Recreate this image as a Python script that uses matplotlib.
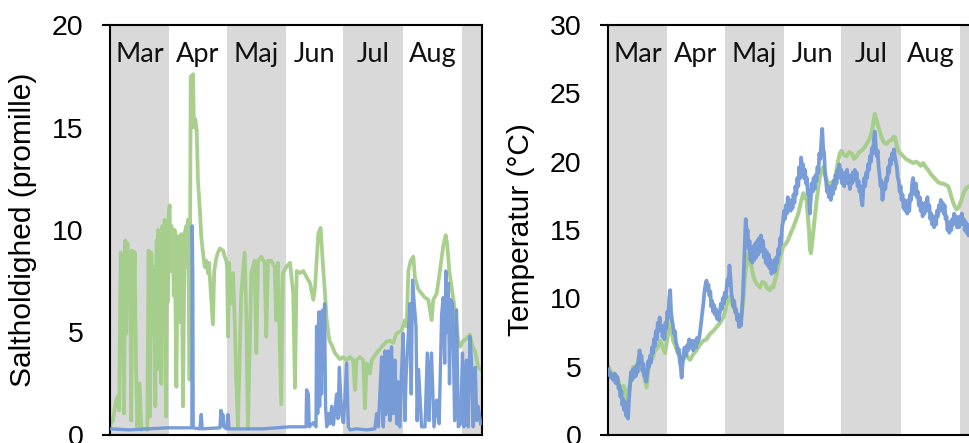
import matplotlib.pyplot as plt
from matplotlib.transforms import blended_transform_factory

# days since 1 March
months = ['Mar', 'Apr', 'Maj', 'Jun', 'Jul', 'Aug', 'Sep']
month_start = [0, 31, 61, 92, 122, 153, 184]
month_end = [31, 61, 92, 122, 153, 184, 194.5]

# salinity (promille), green station
sal_g_day = [0, 0.7, 1.5, 2.5, 3.3, 4.2, 4.8, 5.6, 6.3, 6.8, 7.3, 8.0, 8.5, 9.1, 9.8, 10.5,
             11.1, 11.7, 12.4, 12.9, 13.6, 14.3, 15.5, 16.4, 18.1, 19.5, 20.2, 20.9, 21.6, 22.3,
             23.0, 23.7, 24.0, 24.4, 24.7, 25.1, 25.4, 25.8, 26.3, 26.8, 27.4, 27.9, 28.6, 29.3,
             30.0, 30.4, 30.7, 31.2, 31.6, 32.1, 32.9, 33.3, 33.8, 34.7, 35.5, 36.0, 36.4, 37.3,
             38.2, 39.0, 39.9, 40.4, 40.8, 41.6, 42.2,
             42.9, 43.4, 43.9, 44.6, 45.3, 46.0, 46.9, 47.7, 48.6, 49.5, 50.3, 51.2, 51.7, 52.6,
             53.8, 54.5, 55.5, 56.4, 57.5, 59.1, 60.0, 60.8, 61.2, 61.7, 62.2,
             63.4, 64.3, 65.2, 66.0, 66.9, 67.8, 68.6, 69.5, 70.4, 71.3, 72.1, 73.0, 73.9, 75.6,
             76.5, 77.4, 79.1, 80.8, 81.7, 82.6, 84.3, 86.1, 86.9, 87.8, 89.5, 90.4, 92.2, 94.1,
             95.8, 96.7, 97.6, 99.3, 101.1, 102.8, 104.6, 106.3, 107.2, 108.9, 110.1, 111.2, 112.4,
             113.3, 114.7, 115.9, 117.6, 120.2, 122.0, 123.7, 125.5, 127.1, 128.1, 128.9, 130.7,
             132.4, 133.3, 134.2, 135.9, 136.8, 139.4, 142.0, 144.6, 146.4, 148.1, 149.8, 152.5,
             154.2, 155.1, 156.0, 157.2, 158.6, 159.4, 161.2, 162.9, 164.7, 166.4, 168.2, 169.0,
             170.8, 172.5, 174.2, 175.5, 176.3, 177.4, 178.6, 180.3, 182.1, 183.0, 184.7, 186.4,
             188.2, 189.6, 190.8, 192.5, 193.8]
sal_g = [0.4, 0.6, 0.7, 1.3, 1.7, 1.9, 1.2, 8.9, 4.1, 8.2, 1.05, 9.5, 4.95, 9.35, 6.6, 8.9,
         0.7, 9.0, 6.9, 8.9, 3.3, 0.4, 2.5, 0.25, 0.3, 0.25, 9.0, 0.9, 8.9, 4.95,
         8.2, 1.4, 6.5, 9.5, 3.2, 10.0, 7.0, 4.6, 9.8, 2.5, 10.2, 7.4, 10.5, 0.9,
         9.8, 6.5, 10.8, 11.2, 8.0, 10.2, 9.35, 6.8, 10.0, 2.35, 9.7, 5.5, 9.35, 9.8,
         1.4, 9.8, 10.2, 8.2, 10.5, 2.7, 17.5,
         16.8, 17.6, 15.0, 15.4, 14.9, 12.4, 11.1, 9.7, 8.9, 8.2, 8.5, 7.9, 8.4, 7.1,
         5.4, 8.0, 8.6, 8.9, 9.1, 9.0, 8.7, 8.5, 8.2, 4.8, 8.4,
         6.4, 7.9, 5.6, 2.7, 0.4, 4.0, 6.9, 7.9, 8.9, 5.6, 0.3, 4.0, 7.9, 8.5,
         4.0, 8.5, 8.7, 8.4, 4.8, 8.5, 8.5, 8.2, 5.6, 8.4, 1.5, 7.9, 8.2, 8.4,
         6.9, 2.3, 8.0, 7.9, 8.0, 7.7, 7.4, 6.6, 7.2, 9.8, 10.1, 8.5, 6.9,
         5.6, 4.6, 4.4, 4.0, 3.7, 3.8, 3.65, 3.8, 3.65, 2.2, 3.65, 3.8,
         3.65, 1.3, 3.5, 3.0, 3.65, 4.0, 4.3, 4.55, 4.6, 4.5, 4.95, 5.1,
         5.6, 5.3, 8.0, 8.5, 8.7, 7.7, 7.1, 6.9, 6.7, 6.6, 5.6, 6.6,
         6.9, 8.0, 9.2, 9.75, 9.3, 8.0, 7.2, 6.1, 4.6, 4.3, 4.6, 4.7,
         4.9, 4.3, 4.1, 3.3, 3.2]

# salinity (promille), blue station
sal_b_day = [0, 10, 20, 30, 42.8, 43.0, 43.3, 43.5, 47.0, 47.7, 48.2, 57.5, 58.0, 58.5, 59.0,
             59.5, 61.0, 61.7, 62.2, 80, 94.1, 101.1, 102.5, 102.8, 103.7, 104.2, 106.3, 107.7,
             108.0, 108.6, 109.1, 109.6, 110.1, 110.6, 111.2, 111.7, 112.2, 112.7, 113.3, 114.1,
             115.0, 115.9, 116.8, 118.5, 119.2, 119.9, 121.1, 122.0, 122.8, 123.7, 124.6, 125.5,
             128.9, 134.2, 138.5, 139.4, 140.3, 142.0, 142.5, 142.9, 143.8, 144.2, 144.6, 145.5,
             146.0, 146.4, 147.2, 147.7, 148.1, 149.0, 149.9, 150.5, 151.0, 151.6, 152.4, 153.3,
             154.2, 154.8, 155.9, 156.8, 157.5, 158.2, 158.9, 160.0, 160.6, 161.3, 162.0, 162.9,
             164.7, 165.9, 166.8, 167.4, 168.1, 169.4, 170.8, 172.1, 173.4, 174.2, 175.0, 175.6,
             176.2, 176.9, 177.5, 178.1, 179.1, 180.2, 181.2, 182.1, 183.3, 184.3, 185.0, 185.6,
             186.4, 187.3, 188.2, 189.0, 189.9, 190.4, 191.0, 191.7, 192.5, 193.8]
sal_b = [0.3, 0.25, 0.3, 0.35, 0.35, 10.2, 7.6, 0.35, 0.3, 1.0, 0.3, 0.35, 1.2, 0.5, 1.0,
         0.4, 0.3, 1.0, 0.3, 0.3, 0.4, 0.4, 0.4, 2.2, 2.0, 0.4, 0.6, 0.4,
         5.3, 1.05, 6.0, 1.4, 6.0, 2.0, 6.1, 3.65, 6.4, 1.4, 0.4, 1.05,
         0.55, 1.4, 0.5, 2.0, 0.8, 3.3, 1.05, 0.6, 1.7, 3.5, 0.4, 0.25,
         0.3, 0.25, 0.3, 1.05, 0.4, 3.8, 1.2, 0.4, 4.1, 1.0, 2.0, 4.1,
         1.5, 0.7, 4.3, 2.2, 1.05, 3.65, 0.55, 2.6, 0.5, 0.4, 3.0, 4.95,
         0.7, 2.8, 4.8, 6.4, 2.0, 7.55, 6.6, 5.3, 0.7, 3.2, 2.0, 0.4,
         0.4, 4.0, 0.7, 3.0, 4.0, 0.4, 1.7, 0.55, 5.9, 6.7, 3.5, 8.0,
         5.0, 7.4, 2.5, 6.6, 6.4, 0.7, 6.1, 0.4, 0.55, 4.0, 0.4, 2.6,
         3.65, 0.4, 4.8, 3.65, 0.4, 2.8, 3.3, 0.7, 1.4, 0.55]

# temperature (C), blue station, every half day from 1 March
tmp_b = [4.8, 4.4, 4.6, 4.2, 4.4, 4.1, 4.0, 4.5, 3.8, 4.3, 4.2, 3.4, 3.6, 2.8, 3.2, 2.2,
         2.6, 1.8, 2.4, 1.4, 1.9, 1.2, 2.6, 3.6, 4.6, 4.0, 4.8, 4.2, 4.9, 4.3, 5.1, 4.6,
         5.6, 6.2, 5.4, 5.8, 4.7, 5.2, 4.3, 4.6, 3.9, 4.5, 5.4, 5.0, 5.8, 5.3, 6.4, 6.0,
         7.0, 6.5, 7.6, 7.0, 8.2, 7.6, 8.6, 7.8, 8.0, 7.2, 7.6, 7.0, 8.2, 7.8, 9.0, 8.6,
         10.0, 10.6, 9.0, 8.4, 8.0, 7.4, 7.6, 6.8, 6.6, 6.0, 6.3, 5.4, 5.0, 4.2, 5.2, 6.0,
         6.4, 6.1, 5.8, 6.6, 6.2, 7.0, 6.4, 6.6, 6.9, 6.2, 6.8, 6.9, 6.4, 7.1, 6.8, 7.0,
         7.4, 8.0, 8.6, 9.2, 9.8, 10.6, 11.0, 11.3, 10.6, 11.0, 10.2, 10.5, 9.4, 9.8, 9.0, 9.5,
         8.8, 9.2, 8.5, 9.0, 8.4, 9.0, 9.6, 9.2, 10.0, 9.6, 10.4, 10.0, 10.8, 11.4, 11.0, 12.4,
         11.6, 10.4, 10.0, 9.4, 9.8, 9.0, 9.2, 8.4, 8.8, 7.9, 8.3, 8.0, 9.0, 10.2, 12.0, 14.0,
         15.8, 14.6, 15.0, 13.6, 14.2, 12.8, 13.4, 12.6, 13.8, 12.8, 14.0, 13.0, 14.2, 13.2,
         14.4, 13.4, 14.6, 13.6, 14.2, 13.0, 13.6, 12.6, 13.4, 12.4, 13.2, 12.2, 12.8, 11.8,
         12.6, 11.9, 12.8, 12.0, 13.0, 12.6, 13.6, 13.2, 14.4, 14.0, 15.2, 15.6, 16.4, 15.8,
         16.8, 16.2, 17.4, 16.6, 17.2, 16.4, 17.0, 16.6, 17.6, 17.0, 18.2, 17.6, 18.8, 18.2,
         19.6, 18.8, 20.3, 19.4, 19.8, 18.8, 19.4, 18.4, 18.8, 17.6, 17.8, 16.2, 17.2, 18.4,
         17.8, 18.8, 18.0, 19.0, 18.6, 19.6, 19.2, 20.6, 20.2, 21.4, 22.4, 21.0, 20.6, 19.2,
         18.6, 17.8, 18.2, 17.4, 17.8, 17.2, 18.2, 17.6, 18.6, 18.0, 19.0, 18.4, 19.4, 18.8,
         19.8, 19.0, 19.4, 18.4, 19.0, 18.2, 19.2, 18.6, 19.4, 18.4, 18.8, 18.0, 19.0, 18.4,
         19.2, 18.6, 19.4, 18.8, 19.2, 18.2, 18.6, 17.8, 18.2, 17.2, 16.8, 18.0, 18.8, 18.2,
         19.2, 18.8, 19.8, 19.4, 20.4, 20.0, 21.0, 20.6, 21.6, 22.2, 21.2, 20.4, 20.8, 19.6,
         19.0, 18.2, 18.6, 17.2, 17.8, 18.4, 18.0, 18.8, 18.6, 19.6, 19.2, 20.2, 19.8, 20.6,
         20.2, 20.9, 20.4, 20.0, 19.6, 18.8, 18.6, 17.8, 18.2, 17.2, 17.6, 16.6, 17.2, 16.4,
         17.0, 16.2, 17.2, 16.4, 17.6, 17.2, 18.4, 18.8, 18.2, 17.6, 18.4, 17.4, 17.8, 16.8,
         17.4, 16.4, 17.0, 16.0, 16.6, 16.2, 17.0, 16.6, 17.4, 16.4, 16.8, 15.8, 16.2, 15.4,
         16.0, 15.2, 15.8, 15.4, 16.4, 16.0, 16.8, 16.4, 17.2, 16.6, 17.0, 16.2, 16.8, 15.8,
         16.0, 15.0, 15.4, 14.8, 15.6, 15.0, 15.8, 15.4, 16.2, 15.6, 16.0, 15.2, 15.8, 15.2,
         16.0, 15.4, 16.2, 15.6, 15.8, 15.0, 15.6, 14.8, 15.4, 14.6, 15.2, 14.8, 15.0, 15.4,
         15.0, 15.2, 14.8, 15.2, 15.0, 15.2, 15.0]
tmp_b_day = [0.5 * i for i in range(len(tmp_b))]

# temperature (C), green station
tmp_g_day = [0.2, 1.5, 2.8, 4.0, 5.4, 6.2, 7.1, 8.0, 8.9, 9.5, 10.1, 11.5, 12.4, 13.2, 14.5,
             15.9, 16.8, 17.6, 19.0, 20.2, 21.0, 22.0, 23.3, 24.6, 26.0, 27.2, 28.5, 29.8, 31.2,
             32.4, 33.2, 34.1, 35.5, 36.8, 38.0, 39.4, 41.0, 42.9, 44.5, 46.3, 48.0, 49.8, 51.5,
             53.3, 55.0, 56.8, 58.5, 60.3, 61.5, 62.9, 64.2, 65.5, 66.8, 68.1, 69.0, 69.9, 70.8,
             71.6, 72.5, 73.3, 74.2, 75.1, 76.0, 76.8, 78.0, 79.4, 80.8, 82.1, 83.4, 84.7, 85.6,
             86.4, 87.3, 88.2, 89.0, 89.9, 90.8, 91.6, 93.0, 94.3, 95.6, 96.9, 98.2, 99.5, 100.8,
             102.1, 103.0, 103.8, 104.5, 105.2, 105.6, 106.1, 106.7, 107.3, 108.2, 109.1, 110.0,
             110.8, 111.6, 112.5, 113.4, 114.3, 115.2, 116.0, 117.3, 118.6, 119.5, 120.4, 121.2,
             122.1, 123.4, 124.7, 126.0, 127.4, 128.7, 130.0, 131.3, 132.6, 133.9, 135.2, 136.5,
             137.8, 138.7, 139.5, 140.4, 141.3, 142.2, 143.0, 144.3, 145.6, 147.0, 148.3, 149.1,
             150.0, 150.9, 151.7, 153.0, 154.4, 155.7, 157.0, 158.3, 159.6, 160.9, 162.2, 163.5,
             164.8, 166.1, 167.4, 168.7, 170.0, 171.3, 172.6, 174.0, 175.3, 176.6, 177.9, 178.8,
             179.6, 180.5, 181.4, 182.2, 183.1, 184.0, 184.8, 185.7, 186.6, 187.6, 188.7, 191.0,
             193.5]
tmp_g = [5.0, 4.6, 4.3, 4.4, 4.0, 3.4, 3.0, 3.6, 3.3, 2.8, 2.5, 3.8, 4.4, 5.0, 4.6,
         5.5, 5.2, 5.0, 4.2, 3.5, 4.6, 5.5, 5.6, 6.2, 6.4, 6.9, 6.5, 6.0, 7.2,
         8.6, 7.6, 6.9, 6.4, 6.0, 5.6, 5.5, 5.8, 5.5, 5.9, 6.2, 6.6, 6.9, 7.0,
         7.4, 7.6, 7.9, 8.2, 8.6, 9.2, 10.1, 9.8, 9.4, 9.0, 8.6, 8.4, 8.9, 10.0,
         11.6, 12.6, 13.3, 12.6, 12.3, 11.6, 11.3, 11.0, 10.8, 11.2, 11.1, 10.7, 10.6, 10.9,
         10.8, 11.3, 11.8, 12.4, 13.0, 13.4, 13.8, 14.0, 14.3, 14.8, 15.2, 15.7, 16.2, 17.0,
         17.7, 17.4, 17.2, 16.0, 14.8, 13.6, 13.3, 14.0, 14.8, 16.0, 17.2, 18.2,
         18.9, 19.4, 19.6, 19.0, 18.7, 18.2, 18.4, 18.5, 18.7, 19.4, 20.1, 20.6,
         20.8, 20.5, 20.4, 20.7, 20.6, 20.2, 20.4, 20.7, 20.8, 21.0, 21.3, 21.6,
         22.1, 22.8, 23.5, 23.0, 22.6, 22.2, 21.8, 21.4, 21.3, 21.5, 21.6, 21.8,
         21.8, 21.2, 20.8, 20.6, 20.4, 20.2, 20.1, 20.0, 19.9, 20.0, 19.9, 19.7,
         19.9, 19.6, 19.4, 19.1, 18.9, 18.7, 18.5, 18.4, 18.4, 18.3, 18.2, 17.8,
         17.4, 17.0, 16.7, 16.5, 16.6, 16.9, 17.2, 17.6, 17.9, 18.1, 18.2, 18.0,
         17.8]

green = '#A3CD87'
blue = '#7298D6'

fig = plt.figure(figsize=(9.69, 4.43), dpi=100)
ax1 = fig.add_axes([110 / 969, 8 / 443, 372 / 969, 410 / 443])
ax2 = fig.add_axes([608 / 969, 8 / 443, 372 / 969, 410 / 443])


def setup(ax, ymax, ylabel):
    tr = blended_transform_factory(ax.transData, ax.transAxes)
    for i in range(len(months)):
        if i % 2 == 0:
            ax.axvspan(month_start[i], month_end[i], color='#D9D9D9', lw=0, zorder=0)
        if i < 6:
            ax.text((month_start[i] + month_end[i]) / 2, 0.927, months[i], transform=tr,
                    ha='center', va='center', fontsize=19.5, family='Lato', color='#111111')
    ax.set_xlim(0, 194.5)
    ax.set_ylim(0, ymax)
    ax.set_yticks(range(0, ymax + 1, 5))
    ax.set_xticks([])
    ax.tick_params(axis='y', length=0, pad=19, labelsize=20.5)
    for lab in ax.get_yticklabels():
        lab.set_family('Liberation Sans')
    for s in ax.spines.values():
        s.set_linewidth(1.5)
    # short stubs to the left at top and bottom
    for yy in (0, 1):
        ax.plot([-0.022, 0], [yy, yy], transform=ax.transAxes, color='black', lw=1.5,
                clip_on=False, solid_capstyle='butt')
    ax.set_ylabel(ylabel, fontsize=21.5, family='Liberation Sans')
    ax.yaxis.set_label_coords(-0.195, 0.5)


setup(ax1, 20, 'Saltholdighed (promille)')
setup(ax2, 30, 'Temperatur (°C)')

ax1.plot(sal_g_day, sal_g, color=green, lw=2.7, alpha=0.95, zorder=2)
ax1.plot(sal_b_day, sal_b, color=blue, lw=2.4, alpha=0.95, zorder=3)

ax2.plot(tmp_g_day, tmp_g, color=green, lw=2.9, alpha=0.95, zorder=2)
ax2.plot(tmp_b_day, tmp_b, color=blue, lw=2.7, alpha=0.95, zorder=3)

fig.savefig('out.png', dpi=100)
